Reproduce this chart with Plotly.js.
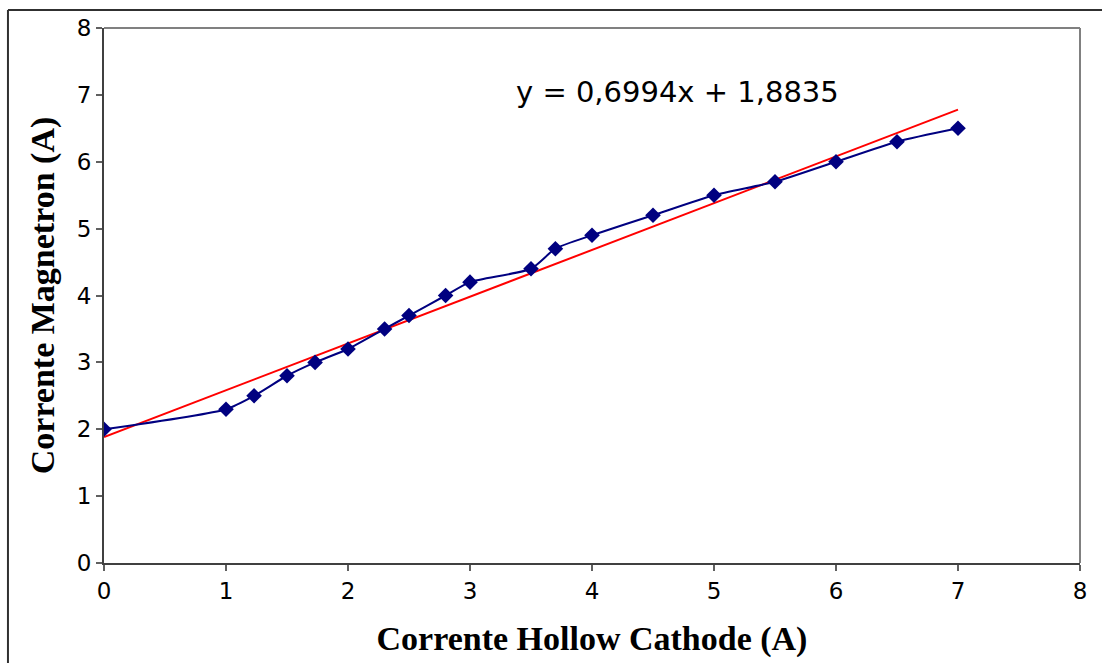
<!DOCTYPE html>
<html>
<head>
<meta charset="utf-8">
<script src="https://cdn.plot.ly/plotly-3.0.1.min.js"></script>
<style>html,body{margin:0;padding:0;background:#fff;}#chart{width:1102px;height:663px;}</style>
</head>
<body>
<div id="chart"></div>
<script>
// Data
const hollowCathode = [0, 1, 1.23, 1.5, 1.73, 2, 2.3, 2.5, 2.8, 3, 3.5, 3.7, 4, 4.5, 5, 5.5, 6, 6.5, 7];
const magnetron    = [2.0, 2.3, 2.5, 2.8, 3.0, 3.2, 3.5, 3.7, 4.0, 4.2, 4.4, 4.7, 4.9, 5.2, 5.5, 5.7, 6.0, 6.3, 6.5];
// Linear trendline shown on the chart
const trendSlope = 0.6994;
const trendIntercept = 1.8835;
const trendX = [0, 7];
const equationText = "y = 0,6994x + 1,8835";
const xTitle = "Corrente Hollow Cathode (A)";
const yTitle = "Corrente Magnetron (A)";

const trendY = trendX.map(x => trendSlope * x + trendIntercept);

const traces = [
  {
    x: trendX, y: trendY, mode: 'lines', type: 'scatter',
    line: {color: '#ff0000', width: 2}, hoverinfo: 'skip', showlegend: false
  },
  {
    x: hollowCathode, y: magnetron, mode: 'lines+markers', type: 'scatter',
    line: {color: '#000080', width: 2, shape: 'spline', smoothing: 0.6},
    marker: {symbol: 'diamond', size: 12, color: '#000080'},
    showlegend: false
  }
];

const layout = {
  width: 1102, height: 663,
  margin: {l: 104, r: 22, t: 28, b: 100},
  paper_bgcolor: '#ffffff', plot_bgcolor: '#ffffff',
  font: {family: 'DejaVu Sans, Verdana, sans-serif', color: '#000'},
  xaxis: {
    range: [0, 8], dtick: 1, tick0: 0, showgrid: false, zeroline: false,
    showline: true, linecolor: '#404040', linewidth: 2,
    ticks: 'outside', ticklen: 6, tickcolor: '#606060', tickwidth: 2,
    tickfont: {size: 23, family: 'DejaVu Sans, sans-serif', color: '#000'},
    title: {text: xTitle, standoff: 24, font: {family: 'Liberation Serif, Times New Roman, serif', size: 34, color: '#000', weight: 'bold'}}
  },
  yaxis: {
    range: [0, 8], dtick: 1, tick0: 0, showgrid: false, zeroline: false,
    showline: true, linecolor: '#404040', linewidth: 2,
    ticks: 'outside', ticklen: 6, tickcolor: '#606060', tickwidth: 2,
    tickfont: {size: 23, family: 'DejaVu Sans, sans-serif', color: '#000'},
    title: {text: yTitle, standoff: 12, font: {family: 'Liberation Serif, Times New Roman, serif', size: 34, color: '#000', weight: 'bold'}}
  },
  shapes: [
    {type: 'line', xref: 'paper', yref: 'paper', x0: 0, x1: 1, y0: 1, y1: 1, line: {color: '#808080', width: 2}},
    {type: 'line', xref: 'paper', yref: 'paper', x0: 1, x1: 1, y0: 0, y1: 1, line: {color: '#808080', width: 2}},
    {type: 'line', xref: 'paper', yref: 'paper', x0: -0.0984, x1: -0.0984, y0: 1.0336, y1: -0.19, line: {color: '#303030', width: 2}},
    {type: 'line', xref: 'paper', yref: 'paper', x0: -0.0984, x1: 1.03, y0: 1.0336, y1: 1.0336, line: {color: '#303030', width: 2}}
  ],
  annotations: [
    {x: 4.70, y: 7.05, xref: 'x', yref: 'y', text: equationText, showarrow: false,
     font: {size: 29, family: 'DejaVu Sans, Verdana, sans-serif', color: '#000'}}
  ]
};

Plotly.newPlot('chart', traces, layout, {displayModeBar: false, staticPlot: true});
</script>
</body>
</html>
